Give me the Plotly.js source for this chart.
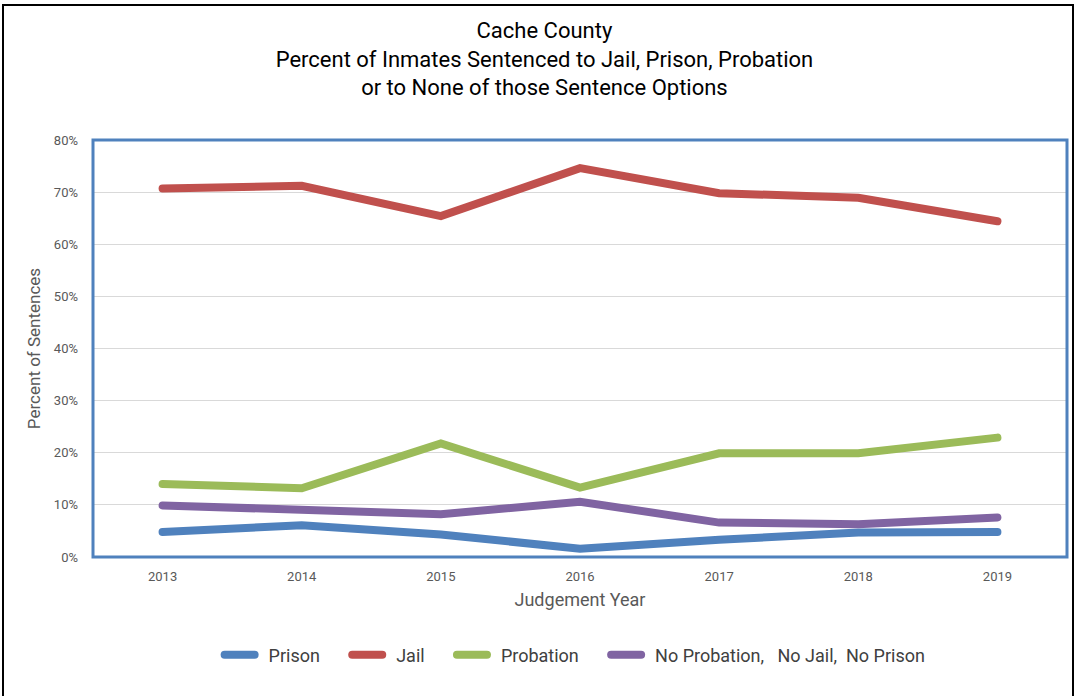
<!DOCTYPE html>
<html>
<head>
<meta charset="utf-8">
<script src="https://cdn.plot.ly/plotly-3.0.1.min.js"></script>
<style>
  html, body { margin: 0; padding: 0; background: #ffffff; }
  #wrap { position: relative; width: 1076px; height: 696px; overflow: hidden; }
  #chart { width: 1076px; height: 696px; }
  #frame {
    position: absolute; left: 2px; top: 4px; width: 1068px; height: 710px;
    border: 2px solid #000000; pointer-events: none;
  }
</style>
</head>
<body>
<div id="wrap">
  <div id="chart"></div>
  <div id="frame"></div>
</div>
<script>
// Judgement years and the share of sentences (percent) for each outcome
const years = ['2013', '2014', '2015', '2016', '2017', '2018', '2019'];
const prison = [4.8, 6.1, 4.3, 1.6, 3.3, 4.7, 4.8];
const jail = [70.7, 71.2, 65.4, 74.6, 69.8, 68.9, 64.4];
const probation = [14.0, 13.2, 21.8, 13.3, 19.9, 19.9, 22.9];
const noneOfThose = [9.9, 9.0, 8.2, 10.6, 6.6, 6.3, 7.6];

// Percent axis ticks
const yTickValues = [0, 10, 20, 30, 40, 50, 60, 70, 80];
const yTickLabels = ['0%', '10%', '20%', '30%', '40%', '50%', '60%', '70%', '80%'];

const NB = '\u00A0';
const seriesNames = [
  NB + NB + 'Prison' + NB.repeat(5),
  NB + NB + 'Jail' + NB.repeat(5),
  NB + NB + 'Probation' + NB.repeat(5),
  NB + NB + 'No Probation,' + NB.repeat(3) + 'No Jail,' + NB + NB + 'No Prison'
];
const seriesColors = ['#4F81BD', '#C0504D', '#9BBB59', '#8064A2'];
const seriesValues = [prison, jail, probation, noneOfThose];

const FONT = '"Liberation Sans Narrow", Roboto, "Liberation Sans", sans-serif';

const traces = seriesValues.map((vals, i) => ({
  type: 'scatter',
  mode: 'lines',
  x: years,
  y: vals,
  name: seriesNames[i],
  line: { color: seriesColors[i], width: 8 },
  hoverinfo: 'x+y+name'
}));

const layout = {
  width: 1076,
  height: 696,
  paper_bgcolor: '#ffffff',
  plot_bgcolor: '#ffffff',
  margin: { l: 93, r: 9, t: 140, b: 139 },
  font: { family: FONT, color: '#595959' },
  title: {
    text: 'Cache County<br>Percent of Inmates Sentenced to Jail, Prison, Probation<br>or to None of those Sentence Options',
    font: { family: FONT, size: 22, color: '#000000' },
    xref: 'container', x: 0.506, xanchor: 'center',
    yref: 'container', y: 0.945, yanchor: 'top'
  },
  xaxis: {
    type: 'category',
    range: [-0.5, 6.5],
    showgrid: false,
    zeroline: false,
    showline: false,
    ticks: '',
    ticklabelstandoff: 10,
    tickfont: { family: FONT, size: 13, color: '#595959' },
    title: { text: 'Judgement Year', font: { family: FONT, size: 18, color: '#595959' }, standoff: 10 }
  },
  yaxis: {
    range: [0, 80],
    tickmode: 'array',
    tickvals: yTickValues,
    ticktext: yTickLabels,
    showgrid: true,
    gridcolor: '#D9D9D9',
    gridwidth: 1,
    zeroline: false,
    showline: false,
    ticks: '',
    ticklabelstandoff: 14,
    tickfont: { family: FONT, size: 13, color: '#595959' },
    title: { text: 'Percent of Sentences', font: { family: FONT, size: 17, color: '#595959' }, standoff: 8 }
  },
  legend: {
    orientation: 'h',
    x: 0.495, xanchor: 'center',
    y: -0.235, yanchor: 'middle',
    font: { family: FONT, size: 18, color: '#404040' },
    itemwidth: 30,
    bgcolor: 'rgba(0,0,0,0)'
  },
  shapes: [{
    type: 'rect', xref: 'paper', yref: 'paper',
    x0: 0, x1: 1, y0: 0, y1: 1,
    line: { color: '#4F81BD', width: 3 },
    layer: 'above'
  }],
  showlegend: true
};

Plotly.newPlot('chart', traces, layout, { displayModeBar: false, staticPlot: true }).then(() => {
  document.querySelectorAll('#chart path.js-line, #chart .legendlines path').forEach(p => {
    p.style.strokeLinecap = 'round';
  });
});
</script>
</body>
</html>
